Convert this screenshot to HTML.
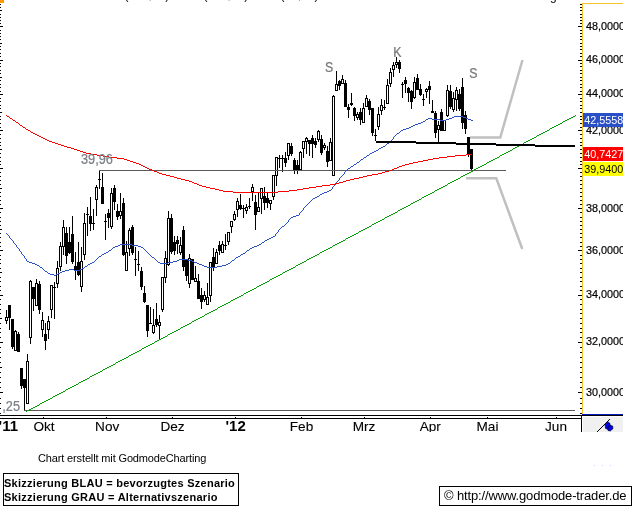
<!DOCTYPE html>
<html><head><meta charset="utf-8"><title>Chart</title>
<style>
html,body{margin:0;padding:0;background:#fff;}
body{width:638px;height:526px;position:relative;overflow:hidden;font-family:"Liberation Sans",Arial,sans-serif;color:#000;}
.cap{position:absolute;left:38px;top:452px;font-size:11px;line-height:13px;white-space:nowrap;letter-spacing:-0.14px;}
.box1{position:absolute;left:3px;top:473px;width:234px;height:31px;border:1px solid #000;box-sizing:content-box;}
.box1 div{position:absolute;left:0px;font-size:11px;font-weight:bold;line-height:13px;white-space:nowrap;letter-spacing:0.26px;}
.box2{position:absolute;left:439px;top:486px;width:191px;height:18px;border:1px solid #000;}
.box2 div{position:absolute;left:4px;top:1px;font-size:13px;line-height:15px;white-space:nowrap;letter-spacing:-0.14px;}
</style></head><body>
<svg width="623" height="432" viewBox="0 0 623 432" shape-rendering="crispEdges" style="position:absolute;left:0;top:0;overflow:hidden">
<rect x="0" y="0" width="623" height="432" fill="#fff"/>
<polyline points="470,137.4 500.3,137.4 522.5,60" fill="none" stroke="#c0c0c0" stroke-width="2.5" stroke-linejoin="miter" shape-rendering="auto"/>
<polyline points="466,178.3 496.3,178.3 522.3,249" fill="none" stroke="#c0c0c0" stroke-width="2.5" stroke-linejoin="miter" shape-rendering="auto"/>
<path d="M6 310h1v14h-1zM5 317h3v4h-3zM9 305h1v25h-1zM8 305h3v13h-3zM12 319h1v30h-1zM11 319h3v28h-3zM15 330h1v21h-1zM14 331h3v20h-3zM18 332h1v20h-1zM17 334h3v18h-3zM21 368h1v21h-1zM20 368h3v18h-3zM24 379h1v32h-1zM23 379h3v9h-3zM27 354h1v50h-1zM26 361h3v43h-3zM30 280h1v64h-1zM29 281h3v57h-3zM33 287h1v24h-1zM32 287h3v12h-3zM36 279h1v27h-1zM35 283h3v23h-3zM39 281h1v33h-1zM38 284h3v26h-3zM42 312h1v25h-1zM41 320h3v10h-3zM45 323h1v27h-1zM44 334h3v7h-3zM48 316h1v23h-1zM47 321h3v9h-3zM51 285h1v33h-1zM50 285h3v25h-3zM54 282h1v37h-1zM53 287h3v1h-3zM57 261h1v27h-1zM56 268h3v16h-3zM60 242h1v29h-1zM59 246h3v21h-3zM63 220h1v35h-1zM62 227h3v20h-3zM66 227h1v37h-1zM65 233h3v23h-3zM69 227h1v27h-1zM68 242h3v11h-3zM72 216h1v48h-1zM71 234h3v28h-3zM75 252h1v28h-1zM74 266h3v4h-3zM78 242h1v34h-1zM77 262h3v13h-3zM81 247h1v45h-1zM80 261h3v26h-3zM84 213h1v47h-1zM83 223h3v32h-3zM87 207h1v29h-1zM86 214h3v1h-3zM90 197h1v34h-1zM89 216h3v8h-3zM93 209h1v21h-1zM92 223h3v1h-3zM96 185h1v31h-1zM95 187h3v13h-3zM99 170h1v19h-1zM98 179h3v1h-3zM102 173h1v31h-1zM101 187h3v17h-3zM105 214h1v26h-1zM104 221h3v1h-3zM108 209h1v19h-1zM107 213h3v5h-3zM111 188h1v41h-1zM110 193h3v34h-3zM114 185h1v25h-1zM113 188h3v14h-3zM117 204h1v16h-1zM116 211h3v6h-3zM120 193h1v26h-1zM119 211h3v5h-3zM123 198h1v58h-1zM122 203h3v52h-3zM126 241h1v30h-1zM125 252h3v19h-3zM129 228h1v28h-1zM128 230h3v19h-3zM132 225h1v30h-1zM131 227h3v26h-3zM135 247h1v29h-1zM134 259h3v1h-3zM138 251h1v20h-1zM137 264h3v1h-3zM141 267h1v23h-1zM140 271h3v16h-3zM144 286h1v17h-1zM143 293h3v9h-3zM147 305h1v32h-1zM146 305h3v26h-3zM150 307h1v17h-1zM149 323h3v1h-3zM153 309h1v25h-1zM152 325h3v8h-3zM156 303h1v24h-1zM155 319h3v6h-3zM159 315h1v24h-1zM158 322h3v4h-3zM162 277h1v35h-1zM161 277h3v33h-3zM165 251h1v32h-1zM164 258h3v20h-3zM168 211h1v55h-1zM167 218h3v47h-3zM171 214h1v40h-1zM170 218h3v34h-3zM174 236h1v19h-1zM173 242h3v9h-3zM177 236h1v18h-1zM176 240h3v4h-3zM180 237h1v18h-1zM179 245h3v8h-3zM183 226h1v45h-1zM182 230h3v37h-3zM186 260h1v21h-1zM185 260h3v16h-3zM189 254h1v34h-1zM188 258h3v26h-3zM192 259h1v21h-1zM191 259h3v21h-3zM195 266h1v16h-1zM194 278h3v4h-3zM198 274h1v25h-1zM197 281h3v18h-3zM201 288h1v21h-1zM200 295h3v7h-3zM204 291h1v11h-1zM203 295h3v5h-3zM207 283h1v22h-1zM206 297h3v8h-3zM210 262h1v40h-1zM209 262h3v34h-3zM213 248h1v23h-1zM212 257h3v11h-3zM216 249h1v15h-1zM215 252h3v12h-3zM219 241h1v14h-1zM218 245h3v6h-3zM222 241h1v12h-1zM221 244h3v9h-3zM225 234h1v16h-1zM224 245h3v1h-3zM228 232h1v13h-1zM227 232h3v10h-3zM231 221h1v12h-1zM230 221h3v6h-3zM234 211h1v10h-1zM233 214h3v6h-3zM237 198h1v19h-1zM236 201h3v9h-3zM240 194h1v16h-1zM239 205h3v4h-3zM243 205h1v13h-1zM242 208h3v1h-3zM246 204h1v10h-1zM245 207h3v4h-3zM249 198h1v11h-1zM248 206h3v1h-3zM252 184h1v17h-1zM251 187h3v5h-3zM255 195h1v35h-1zM254 202h3v13h-3zM258 193h1v19h-1zM257 207h3v5h-3zM261 188h1v26h-1zM260 188h3v11h-3zM264 187h1v23h-1zM263 196h3v7h-3zM267 193h1v15h-1zM266 198h3v5h-3zM270 200h1v10h-1zM269 200h3v4h-3zM273 175h1v25h-1zM272 175h3v22h-3zM276 157h1v29h-1zM275 157h3v19h-3zM279 155h1v13h-1zM278 158h3v1h-3zM282 155h1v17h-1zM281 158h3v1h-3zM285 152h1v15h-1zM284 158h3v5h-3zM288 143h1v17h-1zM287 143h3v13h-3zM291 143h1v13h-1zM290 146h3v8h-3zM294 158h1v16h-1zM293 160h3v10h-3zM297 160h1v14h-1zM296 165h3v6h-3zM300 151h1v19h-1zM299 152h3v18h-3zM303 141h1v17h-1zM302 141h3v8h-3zM306 137h1v17h-1zM305 138h3v4h-3zM309 140h1v16h-1zM308 140h3v4h-3zM312 135h1v23h-1zM311 138h3v6h-3zM315 138h1v10h-1zM314 141h3v4h-3zM318 130h1v12h-1zM317 131h3v9h-3zM321 135h1v20h-1zM320 139h3v14h-3zM324 143h1v7h-1zM323 145h3v3h-3zM327 146h1v21h-1zM326 151h3v11h-3zM330 138h1v23h-1zM329 142h3v19h-3zM333 95h1v81h-1zM332 96h3v80h-3zM336 71h1v20h-1zM335 84h3v7h-3zM339 80h1v10h-1zM338 81h3v5h-3zM342 75h1v9h-1zM341 79h3v5h-3zM345 80h1v27h-1zM344 83h3v24h-3zM348 104h1v14h-1zM347 107h3v3h-3zM351 93h1v13h-1zM350 103h3v2h-3zM354 107h1v14h-1zM353 108h3v8h-3zM357 112h1v8h-1zM356 114h3v4h-3zM360 108h1v17h-1zM359 112h3v8h-3zM363 103h1v20h-1zM362 108h3v15h-3zM366 95h1v12h-1zM365 98h3v9h-3zM369 99h1v16h-1zM368 101h3v9h-3zM372 108h1v28h-1zM371 108h3v25h-3zM375 129h1v12h-1zM374 135h3v1h-3zM378 107h1v23h-1zM377 114h3v13h-3zM381 99h1v16h-1zM380 105h3v6h-3zM384 100h1v10h-1zM383 107h3v1h-3zM387 79h1v25h-1zM386 85h3v19h-3zM390 68h1v19h-1zM389 72h3v12h-3zM393 62h1v15h-1zM392 65h3v5h-3zM396 57h1v11h-1zM395 62h3v3h-3zM399 60h1v13h-1zM398 62h3v7h-3zM402 82h1v16h-1zM401 84h3v1h-3zM405 77h1v16h-1zM404 80h3v4h-3zM408 87h1v15h-1zM407 88h3v5h-3zM411 90h1v19h-1zM410 91h3v11h-3zM414 77h1v22h-1zM413 82h3v16h-3zM417 74h1v16h-1zM416 78h3v12h-3zM420 84h1v12h-1zM419 89h3v6h-3zM423 94h1v12h-1zM422 99h3v1h-3zM426 88h1v10h-1zM425 89h3v3h-3zM429 81h1v23h-1zM428 86h3v4h-3zM432 100h1v13h-1zM431 111h3v2h-3zM435 111h1v27h-1zM434 113h3v20h-3zM438 121h1v21h-1zM437 125h3v5h-3zM441 109h1v22h-1zM440 112h3v19h-3zM444 120h1v11h-1zM443 120h3v11h-3zM447 85h1v32h-1zM446 90h3v26h-3zM450 85h1v24h-1zM449 91h3v16h-3zM453 92h1v20h-1zM452 98h3v12h-3zM456 87h1v24h-1zM455 90h3v10h-3zM459 89h1v22h-1zM458 94h3v15h-3zM462 78h1v51h-1zM461 87h3v36h-3zM465 111h1v23h-1zM464 115h3v14h-3zM468 137h1v20h-1zM467 137h3v18h-3zM471 149h1v21h-1zM470 149h3v20h-3z" fill="#000"/>
<path d="M6 318h1v2h-1zM15 332h1v18h-1zM27 362h1v41h-1zM30 282h1v55h-1zM36 284h1v21h-1zM42 321h1v8h-1zM48 322h1v7h-1zM51 286h1v23h-1zM57 269h1v14h-1zM60 247h1v19h-1zM63 228h1v18h-1zM81 262h1v24h-1zM84 224h1v30h-1zM96 188h1v11h-1zM111 194h1v32h-1zM120 212h1v3h-1zM126 253h1v17h-1zM129 231h1v17h-1zM153 326h1v6h-1zM159 323h1v2h-1zM162 278h1v31h-1zM165 259h1v18h-1zM168 219h1v45h-1zM180 246h1v6h-1zM189 259h1v24h-1zM195 279h1v2h-1zM204 296h1v3h-1zM207 298h1v6h-1zM210 263h1v32h-1zM216 253h1v10h-1zM222 245h1v7h-1zM228 233h1v8h-1zM231 222h1v4h-1zM234 215h1v4h-1zM237 202h1v7h-1zM246 208h1v2h-1zM252 188h1v3h-1zM258 208h1v3h-1zM261 189h1v9h-1zM270 201h1v2h-1zM273 176h1v20h-1zM276 158h1v17h-1zM288 144h1v11h-1zM300 153h1v16h-1zM303 142h1v6h-1zM306 139h1v2h-1zM318 132h1v7h-1zM324 146h1v1h-1zM330 143h1v17h-1zM333 97h1v78h-1zM336 85h1v5h-1zM342 80h1v3h-1zM357 115h1v2h-1zM363 109h1v13h-1zM366 99h1v7h-1zM378 115h1v11h-1zM381 106h1v4h-1zM387 86h1v17h-1zM390 73h1v10h-1zM393 66h1v3h-1zM396 63h1v1h-1zM414 83h1v14h-1zM426 90h1v1h-1zM438 126h1v3h-1zM444 121h1v9h-1zM447 91h1v24h-1zM453 99h1v10h-1zM456 91h1v8h-1z" fill="#fff"/>
<rect x="99" y="170" width="407" height="1" fill="#5a5a5a"/>
<rect x="24" y="410" width="551" height="1" fill="#5a5a5a"/>
<path d="M575 115h1v1h-1zM573 116h2v1h-2zM571 117h2v1h-2zM569 118h2v1h-2zM567 119h2v1h-2zM565 120h2v1h-2zM563 121h2v1h-2zM562 122h1v1h-1zM560 123h2v1h-2zM558 124h2v1h-2zM556 125h2v1h-2zM554 126h2v1h-2zM552 127h2v1h-2zM550 128h2v1h-2zM549 129h1v1h-1zM547 130h2v1h-2zM545 131h2v1h-2zM543 132h2v1h-2zM541 133h2v1h-2zM539 134h2v1h-2zM537 135h2v1h-2zM536 136h1v1h-1zM534 137h2v1h-2zM532 138h2v1h-2zM530 139h2v1h-2zM528 140h2v1h-2zM526 141h2v1h-2zM524 142h2v1h-2zM523 143h1v1h-1zM521 144h2v1h-2zM519 145h2v1h-2zM517 146h2v1h-2zM515 147h2v1h-2zM513 148h2v1h-2zM512 149h1v1h-1zM510 150h2v1h-2zM508 151h2v1h-2zM506 152h2v1h-2zM504 153h2v1h-2zM502 154h2v1h-2zM500 155h2v1h-2zM499 156h1v1h-1zM497 157h2v1h-2zM495 158h2v1h-2zM493 159h2v1h-2zM491 160h2v1h-2zM489 161h2v1h-2zM487 162h2v1h-2zM486 163h1v1h-1zM484 164h2v1h-2zM482 165h2v1h-2zM480 166h2v1h-2zM478 167h2v1h-2zM476 168h2v1h-2zM474 169h2v1h-2zM473 170h1v1h-1zM471 171h2v1h-2zM469 172h2v1h-2zM467 173h2v1h-2zM465 174h2v1h-2zM463 175h2v1h-2zM461 176h2v1h-2zM460 177h1v1h-1zM458 178h2v1h-2zM456 179h2v1h-2zM454 180h2v1h-2zM452 181h2v1h-2zM450 182h2v1h-2zM448 183h2v1h-2zM447 184h1v1h-1zM445 185h2v1h-2zM443 186h2v1h-2zM441 187h2v1h-2zM439 188h2v1h-2zM437 189h2v1h-2zM435 190h2v1h-2zM434 191h1v1h-1zM432 192h2v1h-2zM430 193h2v1h-2zM428 194h2v1h-2zM426 195h2v1h-2zM424 196h2v1h-2zM422 197h2v1h-2zM421 198h1v1h-1zM419 199h2v1h-2zM417 200h2v1h-2zM415 201h2v1h-2zM413 202h2v1h-2zM411 203h2v1h-2zM410 204h1v1h-1zM408 205h2v1h-2zM406 206h2v1h-2zM404 207h2v1h-2zM402 208h2v1h-2zM400 209h2v1h-2zM398 210h2v1h-2zM397 211h1v1h-1zM395 212h2v1h-2zM393 213h2v1h-2zM391 214h2v1h-2zM389 215h2v1h-2zM387 216h2v1h-2zM385 217h2v1h-2zM384 218h1v1h-1zM382 219h2v1h-2zM380 220h2v1h-2zM378 221h2v1h-2zM376 222h2v1h-2zM374 223h2v1h-2zM372 224h2v1h-2zM371 225h1v1h-1zM369 226h2v1h-2zM367 227h2v1h-2zM365 228h2v1h-2zM363 229h2v1h-2zM361 230h2v1h-2zM359 231h2v1h-2zM358 232h1v1h-1zM356 233h2v1h-2zM354 234h2v1h-2zM352 235h2v1h-2zM350 236h2v1h-2zM348 237h2v1h-2zM346 238h2v1h-2zM345 239h1v1h-1zM343 240h2v1h-2zM341 241h2v1h-2zM339 242h2v1h-2zM337 243h2v1h-2zM335 244h2v1h-2zM333 245h2v1h-2zM332 246h1v1h-1zM330 247h2v1h-2zM328 248h2v1h-2zM326 249h2v1h-2zM324 250h2v1h-2zM322 251h2v1h-2zM320 252h2v1h-2zM319 253h1v1h-1zM317 254h2v1h-2zM315 255h2v1h-2zM313 256h2v1h-2zM311 257h2v1h-2zM309 258h2v1h-2zM307 259h2v1h-2zM306 260h1v1h-1zM304 261h2v1h-2zM302 262h2v1h-2zM300 263h2v1h-2zM298 264h2v1h-2zM296 265h2v1h-2zM295 266h1v1h-1zM293 267h2v1h-2zM291 268h2v1h-2zM289 269h2v1h-2zM287 270h2v1h-2zM285 271h2v1h-2zM283 272h2v1h-2zM282 273h1v1h-1zM280 274h2v1h-2zM278 275h2v1h-2zM276 276h2v1h-2zM274 277h2v1h-2zM272 278h2v1h-2zM270 279h2v1h-2zM269 280h1v1h-1zM267 281h2v1h-2zM265 282h2v1h-2zM263 283h2v1h-2zM261 284h2v1h-2zM259 285h2v1h-2zM257 286h2v1h-2zM256 287h1v1h-1zM254 288h2v1h-2zM252 289h2v1h-2zM250 290h2v1h-2zM248 291h2v1h-2zM246 292h2v1h-2zM244 293h2v1h-2zM243 294h1v1h-1zM241 295h2v1h-2zM239 296h2v1h-2zM237 297h2v1h-2zM235 298h2v1h-2zM233 299h2v1h-2zM231 300h2v1h-2zM230 301h1v1h-1zM228 302h2v1h-2zM226 303h2v1h-2zM224 304h2v1h-2zM222 305h2v1h-2zM220 306h2v1h-2zM218 307h2v1h-2zM217 308h1v1h-1zM215 309h2v1h-2zM213 310h2v1h-2zM211 311h2v1h-2zM209 312h2v1h-2zM207 313h2v1h-2zM205 314h2v1h-2zM204 315h1v1h-1zM202 316h2v1h-2zM200 317h2v1h-2zM198 318h2v1h-2zM196 319h2v1h-2zM194 320h2v1h-2zM192 321h2v1h-2zM191 322h1v1h-1zM189 323h2v1h-2zM187 324h2v1h-2zM185 325h2v1h-2zM183 326h2v1h-2zM181 327h2v1h-2zM180 328h1v1h-1zM178 329h2v1h-2zM176 330h2v1h-2zM174 331h2v1h-2zM172 332h2v1h-2zM170 333h2v1h-2zM168 334h2v1h-2zM167 335h1v1h-1zM165 336h2v1h-2zM163 337h2v1h-2zM161 338h2v1h-2zM159 339h2v1h-2zM157 340h2v1h-2zM155 341h2v1h-2zM154 342h1v1h-1zM152 343h2v1h-2zM150 344h2v1h-2zM148 345h2v1h-2zM146 346h2v1h-2zM144 347h2v1h-2zM142 348h2v1h-2zM141 349h1v1h-1zM139 350h2v1h-2zM137 351h2v1h-2zM135 352h2v1h-2zM133 353h2v1h-2zM131 354h2v1h-2zM129 355h2v1h-2zM128 356h1v1h-1zM126 357h2v1h-2zM124 358h2v1h-2zM122 359h2v1h-2zM120 360h2v1h-2zM118 361h2v1h-2zM116 362h2v1h-2zM115 363h1v1h-1zM113 364h2v1h-2zM111 365h2v1h-2zM109 366h2v1h-2zM107 367h2v1h-2zM105 368h2v1h-2zM103 369h2v1h-2zM102 370h1v1h-1zM100 371h2v1h-2zM98 372h2v1h-2zM96 373h2v1h-2zM94 374h2v1h-2zM92 375h2v1h-2zM90 376h2v1h-2zM89 377h1v1h-1zM87 378h2v1h-2zM85 379h2v1h-2zM83 380h2v1h-2zM81 381h2v1h-2zM79 382h2v1h-2zM78 383h1v1h-1zM76 384h2v1h-2zM74 385h2v1h-2zM72 386h2v1h-2zM70 387h2v1h-2zM68 388h2v1h-2zM66 389h2v1h-2zM65 390h1v1h-1zM63 391h2v1h-2zM61 392h2v1h-2zM59 393h2v1h-2zM57 394h2v1h-2zM55 395h2v1h-2zM53 396h2v1h-2zM52 397h1v1h-1zM50 398h2v1h-2zM48 399h2v1h-2zM46 400h2v1h-2zM44 401h2v1h-2zM42 402h2v1h-2zM40 403h2v1h-2zM39 404h1v1h-1zM37 405h2v1h-2zM35 406h2v1h-2zM33 407h2v1h-2zM31 408h2v1h-2zM29 409h2v1h-2zM27 410h2v1h-2zM26 411h1v1h-1z" fill="#00a000"/>
<path d="M6 115h1v1h-1zM7 116h2v1h-2zM9 117h1v1h-1zM10 118h2v1h-2zM12 119h1v1h-1zM13 120h2v1h-2zM15 121h1v1h-1zM16 122h2v1h-2zM18 123h1v1h-1zM19 124h1v1h-1zM20 125h2v1h-2zM22 126h1v1h-1zM23 127h2v1h-2zM25 128h1v1h-1zM26 129h2v1h-2zM28 130h2v1h-2zM30 131h1v1h-1zM31 132h2v1h-2zM33 133h2v1h-2zM35 134h2v1h-2zM37 135h2v1h-2zM39 136h2v1h-2zM41 137h2v1h-2zM43 138h2v1h-2zM45 139h2v1h-2zM47 140h2v1h-2zM49 141h3v1h-3zM52 142h3v1h-3zM55 143h3v1h-3zM58 144h3v1h-3zM61 145h3v1h-3zM64 146h3v1h-3zM67 147h4v1h-4zM71 148h3v1h-3zM74 149h3v1h-3zM77 150h3v1h-3zM80 151h3v1h-3zM83 152h3v1h-3zM86 153h5v1h-5zM91 154h6v1h-6zM466 154h6v1h-6zM97 155h6v1h-6zM455 155h11v1h-11zM103 156h6v1h-6zM447 156h8v1h-8zM109 157h8v1h-8zM439 157h8v1h-8zM117 158h7v1h-7zM433 158h6v1h-6zM124 159h3v1h-3zM428 159h5v1h-5zM127 160h3v1h-3zM423 160h5v1h-5zM130 161h3v1h-3zM418 161h5v1h-5zM133 162h3v1h-3zM413 162h5v1h-5zM136 163h3v1h-3zM409 163h4v1h-4zM139 164h2v1h-2zM405 164h4v1h-4zM141 165h2v1h-2zM402 165h3v1h-3zM143 166h2v1h-2zM399 166h3v1h-3zM145 167h2v1h-2zM397 167h2v1h-2zM147 168h2v1h-2zM394 168h3v1h-3zM149 169h3v1h-3zM392 169h2v1h-2zM152 170h2v1h-2zM389 170h3v1h-3zM154 171h3v1h-3zM385 171h4v1h-4zM157 172h2v1h-2zM382 172h3v1h-3zM159 173h3v1h-3zM378 173h4v1h-4zM162 174h4v1h-4zM372 174h6v1h-6zM166 175h4v1h-4zM367 175h5v1h-5zM170 176h4v1h-4zM363 176h4v1h-4zM174 177h3v1h-3zM359 177h4v1h-4zM177 178h4v1h-4zM354 178h5v1h-5zM181 179h4v1h-4zM350 179h4v1h-4zM185 180h4v1h-4zM346 180h4v1h-4zM189 181h3v1h-3zM343 181h3v1h-3zM192 182h2v1h-2zM339 182h4v1h-4zM194 183h3v1h-3zM336 183h3v1h-3zM197 184h2v1h-2zM330 184h6v1h-6zM199 185h3v1h-3zM322 185h8v1h-8zM202 186h4v1h-4zM316 186h6v1h-6zM206 187h4v1h-4zM309 187h7v1h-7zM210 188h5v1h-5zM303 188h6v1h-6zM215 189h4v1h-4zM297 189h6v1h-6zM219 190h4v1h-4zM289 190h8v1h-8zM223 191h10v1h-10zM278 191h11v1h-11zM233 192h45v1h-45z" fill="#ff0000"/>
<path d="M454 116h9v1h-9zM452 117h2v1h-2zM463 117h3v1h-3zM428 118h4v1h-4zM449 118h3v1h-3zM466 118h2v1h-2zM426 119h2v1h-2zM432 119h8v1h-8zM446 119h3v1h-3zM468 119h3v1h-3zM425 120h1v1h-1zM440 120h6v1h-6zM471 120h2v1h-2zM423 121h2v1h-2zM421 122h2v1h-2zM418 123h3v1h-3zM415 124h3v1h-3zM413 125h2v1h-2zM411 126h2v1h-2zM409 127h2v1h-2zM406 128h3v1h-3zM403 129h3v1h-3zM401 130h2v1h-2zM400 131h1v1h-1zM399 132h1v1h-1zM397 133h2v1h-2zM396 134h1v1h-1zM395 135h1v1h-1zM394 136h1v1h-1zM393 137h1v1h-1zM393 138h1v1h-1zM392 139h1v1h-1zM391 140h1v1h-1zM390 141h1v1h-1zM389 142h1v1h-1zM387 143h2v1h-2zM386 144h1v1h-1zM385 145h1v1h-1zM383 146h2v1h-2zM381 147h2v1h-2zM379 148h2v1h-2zM378 149h1v1h-1zM376 150h2v1h-2zM374 151h2v1h-2zM372 152h2v1h-2zM370 153h2v1h-2zM369 154h1v1h-1zM367 155h2v1h-2zM366 156h1v1h-1zM364 157h2v1h-2zM363 158h1v1h-1zM361 159h2v1h-2zM360 160h1v1h-1zM359 161h1v1h-1zM357 162h2v1h-2zM356 163h1v1h-1zM354 164h2v1h-2zM353 165h1v1h-1zM351 166h2v1h-2zM350 167h1v1h-1zM348 168h2v1h-2zM347 169h1v1h-1zM346 170h1v1h-1zM345 171h1v1h-1zM344 172h1v1h-1zM344 173h1v1h-1zM343 174h1v1h-1zM342 175h1v1h-1zM341 176h1v1h-1zM340 177h1v1h-1zM339 178h1v1h-1zM339 179h1v1h-1zM338 180h1v1h-1zM337 181h1v1h-1zM336 182h1v1h-1zM335 183h1v1h-1zM335 184h1v1h-1zM334 185h1v1h-1zM333 186h1v1h-1zM332 187h1v1h-1zM332 188h1v1h-1zM331 189h1v1h-1zM329 190h2v1h-2zM327 191h2v1h-2zM324 192h3v1h-3zM322 193h2v1h-2zM320 194h2v1h-2zM319 195h1v1h-1zM317 196h2v1h-2zM315 197h2v1h-2zM313 198h2v1h-2zM312 199h1v1h-1zM311 200h1v1h-1zM310 201h1v1h-1zM309 202h1v1h-1zM308 203h1v1h-1zM307 204h1v1h-1zM306 205h1v1h-1zM305 206h1v1h-1zM304 207h1v1h-1zM303 208h1v1h-1zM303 209h1v1h-1zM302 210h1v1h-1zM301 211h1v1h-1zM300 212h1v1h-1zM299 213h1v1h-1zM299 214h1v1h-1zM296 215h3v1h-3zM293 216h3v1h-3zM291 217h2v1h-2zM290 218h1v1h-1zM289 219h1v1h-1zM288 220h1v1h-1zM288 221h1v1h-1zM287 222h1v1h-1zM286 223h1v1h-1zM285 224h1v1h-1zM284 225h1v1h-1zM282 226h2v1h-2zM281 227h1v1h-1zM280 228h1v1h-1zM279 229h1v1h-1zM278 230h1v1h-1zM278 231h1v1h-1zM277 232h1v1h-1zM6 233h1v1h-1zM276 233h1v1h-1zM7 234h1v1h-1zM275 234h1v1h-1zM8 235h1v1h-1zM275 235h1v1h-1zM9 236h1v1h-1zM273 236h2v1h-2zM9 237h1v1h-1zM271 237h2v1h-2zM10 238h1v1h-1zM269 238h2v1h-2zM11 239h1v1h-1zM267 239h2v1h-2zM12 240h1v1h-1zM265 240h2v1h-2zM13 241h1v1h-1zM264 241h1v1h-1zM13 242h1v1h-1zM262 242h2v1h-2zM14 243h1v1h-1zM261 243h1v1h-1zM15 244h1v1h-1zM120 244h12v1h-12zM259 244h2v1h-2zM16 245h1v1h-1zM118 245h2v1h-2zM132 245h6v1h-6zM257 245h2v1h-2zM16 246h1v1h-1zM115 246h3v1h-3zM138 246h3v1h-3zM254 246h3v1h-3zM17 247h1v1h-1zM113 247h2v1h-2zM141 247h2v1h-2zM252 247h2v1h-2zM18 248h1v1h-1zM112 248h1v1h-1zM143 248h1v1h-1zM250 248h2v1h-2zM19 249h1v1h-1zM111 249h1v1h-1zM144 249h1v1h-1zM249 249h1v1h-1zM19 250h1v1h-1zM109 250h2v1h-2zM145 250h1v1h-1zM247 250h2v1h-2zM20 251h1v1h-1zM108 251h1v1h-1zM146 251h1v1h-1zM246 251h1v1h-1zM21 252h1v1h-1zM106 252h2v1h-2zM147 252h1v1h-1zM245 252h1v1h-1zM21 253h1v1h-1zM104 253h2v1h-2zM148 253h1v1h-1zM243 253h2v1h-2zM22 254h1v1h-1zM102 254h2v1h-2zM149 254h1v1h-1zM241 254h2v1h-2zM23 255h1v1h-1zM101 255h1v1h-1zM150 255h1v1h-1zM240 255h1v1h-1zM24 256h1v1h-1zM99 256h2v1h-2zM151 256h1v1h-1zM238 256h2v1h-2zM24 257h1v1h-1zM98 257h1v1h-1zM152 257h2v1h-2zM236 257h2v1h-2zM25 258h1v1h-1zM97 258h1v1h-1zM154 258h1v1h-1zM235 258h1v1h-1zM26 259h1v1h-1zM96 259h1v1h-1zM155 259h1v1h-1zM179 259h9v1h-9zM234 259h1v1h-1zM26 260h1v1h-1zM95 260h1v1h-1zM156 260h1v1h-1zM177 260h2v1h-2zM188 260h4v1h-4zM232 260h2v1h-2zM27 261h2v1h-2zM94 261h1v1h-1zM157 261h1v1h-1zM173 261h4v1h-4zM192 261h2v1h-2zM231 261h1v1h-1zM29 262h3v1h-3zM92 262h2v1h-2zM158 262h2v1h-2zM168 262h5v1h-5zM194 262h3v1h-3zM230 262h1v1h-1zM32 263h3v1h-3zM90 263h2v1h-2zM160 263h8v1h-8zM197 263h2v1h-2zM228 263h2v1h-2zM35 264h2v1h-2zM88 264h2v1h-2zM199 264h3v1h-3zM226 264h2v1h-2zM37 265h2v1h-2zM87 265h1v1h-1zM202 265h2v1h-2zM222 265h4v1h-4zM39 266h1v1h-1zM85 266h2v1h-2zM204 266h3v1h-3zM217 266h5v1h-5zM40 267h2v1h-2zM84 267h1v1h-1zM207 267h10v1h-10zM42 268h1v1h-1zM82 268h2v1h-2zM43 269h1v1h-1zM69 269h5v1h-5zM80 269h2v1h-2zM44 270h1v1h-1zM65 270h4v1h-4zM74 270h6v1h-6zM45 271h2v1h-2zM62 271h3v1h-3zM47 272h1v1h-1zM60 272h2v1h-2zM48 273h2v1h-2zM58 273h2v1h-2zM50 274h4v1h-4zM56 274h2v1h-2zM54 275h2v1h-2z" fill="#2a50c8"/>
<path d="M376 141h40v2h-40zM416 142h40v2h-40zM456 143h40v2h-40zM496 144h39v2h-39zM535 145h40v2h-40z" fill="#000"/>
<path d="M0 413h1v1h-1zM0 408h1v1h-1zM0 403h1v1h-1zM0 398h1v1h-1zM0 392h3v1h-3zM0 387h1v1h-1zM0 382h1v1h-1zM0 377h1v1h-1zM0 372h1v1h-1zM0 367h2v1h-2zM0 362h1v1h-1zM0 357h1v1h-1zM0 352h1v1h-1zM0 347h1v1h-1zM0 342h3v1h-3zM0 337h1v1h-1zM0 332h1v1h-1zM0 328h1v1h-1zM0 323h1v1h-1zM0 318h2v1h-2zM0 313h1v1h-1zM0 309h1v1h-1zM0 304h1v1h-1zM0 299h1v1h-1zM0 295h3v1h-3zM0 290h1v1h-1zM0 286h1v1h-1zM0 281h1v1h-1zM0 277h1v1h-1zM0 272h2v1h-2zM0 268h1v1h-1zM0 263h1v1h-1zM0 259h1v1h-1zM0 255h1v1h-1zM0 250h3v1h-3zM0 246h1v1h-1zM0 242h1v1h-1zM0 237h1v1h-1zM0 233h1v1h-1zM0 229h2v1h-2zM0 225h1v1h-1zM0 221h1v1h-1zM0 217h1v1h-1zM0 212h1v1h-1zM0 208h3v1h-3zM0 204h1v1h-1zM0 200h1v1h-1zM0 196h1v1h-1zM0 192h1v1h-1zM0 188h2v1h-2zM0 184h1v1h-1zM0 180h1v1h-1zM0 176h1v1h-1zM0 172h1v1h-1zM0 168h3v1h-3zM0 164h1v1h-1zM0 161h1v1h-1zM0 157h1v1h-1zM0 153h1v1h-1zM0 149h2v1h-2zM0 145h1v1h-1zM0 142h1v1h-1zM0 138h1v1h-1zM0 134h1v1h-1zM0 130h3v1h-3zM0 127h1v1h-1zM0 123h1v1h-1zM0 119h1v1h-1zM0 116h1v1h-1zM0 112h2v1h-2zM0 108h1v1h-1zM0 105h1v1h-1zM0 101h1v1h-1zM0 98h1v1h-1zM0 94h3v1h-3zM0 91h1v1h-1zM0 87h1v1h-1zM0 84h1v1h-1zM0 80h1v1h-1zM0 77h2v1h-2zM0 73h1v1h-1zM0 70h1v1h-1zM0 66h1v1h-1zM0 63h1v1h-1zM0 60h3v1h-3zM0 56h1v1h-1zM0 53h1v1h-1zM0 49h1v1h-1zM0 46h1v1h-1zM0 43h2v1h-2zM0 39h1v1h-1zM0 36h1v1h-1zM0 33h1v1h-1zM0 30h1v1h-1zM0 26h3v1h-3zM0 23h1v1h-1zM0 20h1v1h-1zM0 17h1v1h-1zM0 14h1v1h-1zM0 10h2v1h-2zM0 7h1v1h-1zM0 4h1v1h-1zM580 413h2v1h-2zM580 408h2v1h-2zM580 403h2v1h-2zM580 398h2v1h-2zM578 392h4v1h-4zM580 387h2v1h-2zM580 382h2v1h-2zM580 377h2v1h-2zM580 372h2v1h-2zM580 367h2v1h-2zM580 362h2v1h-2zM580 357h2v1h-2zM580 352h2v1h-2zM580 347h2v1h-2zM578 342h4v1h-4zM580 337h2v1h-2zM580 332h2v1h-2zM580 328h2v1h-2zM580 323h2v1h-2zM580 318h2v1h-2zM580 313h2v1h-2zM580 309h2v1h-2zM580 304h2v1h-2zM580 299h2v1h-2zM578 295h4v1h-4zM580 290h2v1h-2zM580 286h2v1h-2zM580 281h2v1h-2zM580 277h2v1h-2zM580 272h2v1h-2zM580 268h2v1h-2zM580 263h2v1h-2zM580 259h2v1h-2zM580 255h2v1h-2zM578 250h4v1h-4zM580 246h2v1h-2zM580 242h2v1h-2zM580 237h2v1h-2zM580 233h2v1h-2zM580 229h2v1h-2zM580 225h2v1h-2zM580 221h2v1h-2zM580 217h2v1h-2zM580 212h2v1h-2zM578 208h4v1h-4zM580 204h2v1h-2zM580 200h2v1h-2zM580 196h2v1h-2zM580 192h2v1h-2zM580 188h2v1h-2zM580 184h2v1h-2zM580 180h2v1h-2zM580 176h2v1h-2zM580 172h2v1h-2zM578 168h4v1h-4zM580 164h2v1h-2zM580 161h2v1h-2zM580 157h2v1h-2zM580 153h2v1h-2zM580 149h2v1h-2zM580 145h2v1h-2zM580 142h2v1h-2zM580 138h2v1h-2zM580 134h2v1h-2zM578 130h4v1h-4zM580 127h2v1h-2zM580 123h2v1h-2zM580 119h2v1h-2zM580 116h2v1h-2zM580 112h2v1h-2zM580 108h2v1h-2zM580 105h2v1h-2zM580 101h2v1h-2zM580 98h2v1h-2zM578 94h4v1h-4zM580 91h2v1h-2zM580 87h2v1h-2zM580 84h2v1h-2zM580 80h2v1h-2zM580 77h2v1h-2zM580 73h2v1h-2zM580 70h2v1h-2zM580 66h2v1h-2zM580 63h2v1h-2zM578 60h4v1h-4zM580 56h2v1h-2zM580 53h2v1h-2zM580 49h2v1h-2zM580 46h2v1h-2zM580 43h2v1h-2zM580 39h2v1h-2zM580 36h2v1h-2zM580 33h2v1h-2zM580 30h2v1h-2zM578 26h4v1h-4zM580 23h2v1h-2zM580 20h2v1h-2zM580 17h2v1h-2zM580 14h2v1h-2zM580 10h2v1h-2zM580 7h2v1h-2zM580 4h2v1h-2z" fill="#000"/>
<rect x="0" y="0" width="4" height="3" fill="#ff9900"/>
<rect x="582" y="3" width="1" height="411" fill="#f5c42c"/>
<rect x="582" y="3" width="41" height="1" fill="#f5c42c"/>
<rect x="0" y="415" width="623" height="1" fill="#000"/>
<rect x="0" y="418" width="582" height="1" fill="#000"/>
<rect x="581" y="415" width="1" height="17" fill="#000"/>
<rect x="582" y="414" width="41" height="1" fill="#0018c8"/>
<rect x="583" y="417" width="40" height="15" fill="#f0f0f0"/>
<rect x="43" y="417" width="1" height="1" fill="#000"/>
<rect x="106" y="417" width="1" height="1" fill="#000"/>
<rect x="172" y="417" width="1" height="1" fill="#000"/>
<rect x="235" y="417" width="1" height="1" fill="#000"/>
<rect x="301" y="417" width="1" height="1" fill="#000"/>
<rect x="364" y="417" width="1" height="1" fill="#000"/>
<rect x="430" y="417" width="1" height="1" fill="#000"/>
<rect x="487" y="417" width="1" height="1" fill="#000"/>
<rect x="556" y="417" width="1" height="1" fill="#000"/>
<line x1="597" y1="432" x2="610" y2="419" stroke="#000" stroke-width="1"/>
<polygon points="605,424.5 608,421.8 610,423.5 609.8,425.2 612.6,426 613,428.6 610.2,431 608,430.4 607.6,429 605.6,428.6" fill="#0000f0" stroke="#000020" stroke-width="0.7" shape-rendering="auto"/>
<line x1="607.2" y1="428.6" x2="610.4" y2="424.8" stroke="#000070" stroke-width="1.6" shape-rendering="auto"/>
<text x="586" y="29.6" style="font-family:'Liberation Sans',Arial,sans-serif;font-size:10.8px" fill="#000" stroke="#000" stroke-width="0.2">48,0000</text>
<text x="586" y="62.7" style="font-family:'Liberation Sans',Arial,sans-serif;font-size:10.8px" fill="#000" stroke="#000" stroke-width="0.2">46,0000</text>
<text x="586" y="97.3" style="font-family:'Liberation Sans',Arial,sans-serif;font-size:10.8px" fill="#000" stroke="#000" stroke-width="0.2">44,0000</text>
<text x="586" y="133.6" style="font-family:'Liberation Sans',Arial,sans-serif;font-size:10.8px" fill="#000" stroke="#000" stroke-width="0.2">42,0000</text>
<text x="586" y="211.5" style="font-family:'Liberation Sans',Arial,sans-serif;font-size:10.8px" fill="#000" stroke="#000" stroke-width="0.2">38,0000</text>
<text x="586" y="253.6" style="font-family:'Liberation Sans',Arial,sans-serif;font-size:10.8px" fill="#000" stroke="#000" stroke-width="0.2">36,0000</text>
<text x="586" y="298.1" style="font-family:'Liberation Sans',Arial,sans-serif;font-size:10.8px" fill="#000" stroke="#000" stroke-width="0.2">34,0000</text>
<text x="586" y="345.3" style="font-family:'Liberation Sans',Arial,sans-serif;font-size:10.8px" fill="#000" stroke="#000" stroke-width="0.2">32,0000</text>
<text x="586" y="395.5" style="font-family:'Liberation Sans',Arial,sans-serif;font-size:10.8px" fill="#000" stroke="#000" stroke-width="0.2">30,0000</text>
<rect x="583" y="113" width="40" height="14" fill="#2a50c8"/>
<text x="584.2" y="124" style="font-family:'Liberation Sans',Arial,sans-serif;font-size:10.8px" fill="#fff">42,5558</text>
<rect x="583" y="147" width="40" height="14" fill="#ff0000"/>
<text x="584.2" y="158" style="font-family:'Liberation Sans',Arial,sans-serif;font-size:10.8px" fill="#fff">40,7427</text>
<rect x="583" y="162" width="40" height="14" fill="#ffff00"/>
<text x="584.2" y="173" style="font-family:'Liberation Sans',Arial,sans-serif;font-size:10.8px" fill="#000">39,9400</text>
<text transform="translate(81,164.3) scale(0.91,1)" style="font-family:'Liberation Sans',Arial,sans-serif;font-size:14px" fill="#7c8088" stroke="#7c8088" stroke-width="0.25">39,96</text>
<text transform="translate(2.3,410.5) scale(0.91,1)" style="font-family:'Liberation Sans',Arial,sans-serif;font-size:14px" fill="#7c8088" stroke="#7c8088" stroke-width="0.25">,25</text>
<text transform="translate(325,72) scale(0.88,1)" style="font-family:'Liberation Sans',Arial,sans-serif;font-size:14px" fill="#787878" stroke="#787878" stroke-width="0.25">S</text>
<text transform="translate(393.3,57) scale(0.88,1)" style="font-family:'Liberation Sans',Arial,sans-serif;font-size:14px" fill="#787878" stroke="#787878" stroke-width="0.25">K</text>
<text transform="translate(469.3,78) scale(0.88,1)" style="font-family:'Liberation Sans',Arial,sans-serif;font-size:14px" fill="#787878" stroke="#787878" stroke-width="0.25">S</text>
<text transform="translate(-1.4,430.9) scale(1.07,1)" style="font-family:'Liberation Sans',Arial,sans-serif;font-size:13.6px;font-size:14px;font-weight:bold" fill="#000">'11</text>
<text x="44" y="430.8" text-anchor="middle" style="font-family:'Liberation Sans',Arial,sans-serif;font-size:13.6px" fill="#000" stroke="#000" stroke-width="0.1">Okt</text>
<text x="107.2" y="430.8" text-anchor="middle" style="font-family:'Liberation Sans',Arial,sans-serif;font-size:13.6px" fill="#000" stroke="#000" stroke-width="0.1">Nov</text>
<text x="172.5" y="430.8" text-anchor="middle" style="font-family:'Liberation Sans',Arial,sans-serif;font-size:13.6px" fill="#000" stroke="#000" stroke-width="0.1">Dez</text>
<text x="301.5" y="430.8" text-anchor="middle" style="font-family:'Liberation Sans',Arial,sans-serif;font-size:13.6px" fill="#000" stroke="#000" stroke-width="0.1">Feb</text>
<text x="364" y="430.8" text-anchor="middle" style="font-family:'Liberation Sans',Arial,sans-serif;font-size:13.6px" fill="#000" stroke="#000" stroke-width="0.1">Mrz</text>
<text x="430.3" y="430.8" text-anchor="middle" style="font-family:'Liberation Sans',Arial,sans-serif;font-size:13.6px" fill="#000" stroke="#000" stroke-width="0.1">Apr</text>
<text x="487.5" y="430.8" text-anchor="middle" style="font-family:'Liberation Sans',Arial,sans-serif;font-size:13.6px" fill="#000" stroke="#000" stroke-width="0.1">Mai</text>
<text x="556" y="430.8" text-anchor="middle" style="font-family:'Liberation Sans',Arial,sans-serif;font-size:13.6px" fill="#000" stroke="#000" stroke-width="0.1">Jun</text>
<text transform="translate(225.5,430.9) scale(1.07,1)" style="font-family:'Liberation Sans',Arial,sans-serif;font-size:13.6px;font-size:14px;font-weight:bold" fill="#000">'12</text>
<text x="124.5" y="-1" style="font-family:'Liberation Sans',Arial,sans-serif;font-size:12px" fill="#000">(200,50)</text>
<text x="203.5" y="-1" style="font-family:'Liberation Sans',Arial,sans-serif;font-size:12px" fill="#000">(100,50)</text>
<text x="280.5" y="-1" style="font-family:'Liberation Sans',Arial,sans-serif;font-size:12px" fill="#000">(50,50)</text>
<text x="550" y="-0.5" style="font-family:'Liberation Sans',Arial,sans-serif;font-size:12px" fill="#000">g</text>
</svg>
<div style="position:absolute;left:594px;top:465px;width:1px;height:1px;background:#ccccff"></div><div style="position:absolute;left:602px;top:465px;width:1px;height:1px;background:#ccccff"></div><div style="position:absolute;left:610px;top:465px;width:1px;height:1px;background:#ccccff"></div>
<div class="cap">Chart erstellt mit GodmodeCharting</div>
<div class="box1"><div style="top:3px">Skizzierung BLAU = bevorzugtes Szenario</div><div style="top:17px">Skizzierung GRAU = Alternativszenario</div></div>
<div class="box2"><div>© http://www.godmode-trader.de</div></div>
</body></html>
